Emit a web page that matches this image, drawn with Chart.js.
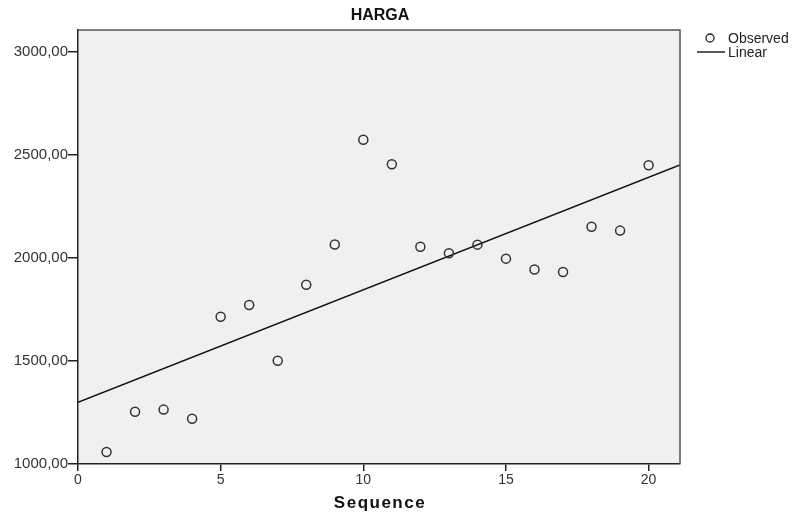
<!DOCTYPE html>
<html>
<head>
<meta charset="utf-8">
<script src="https://cdn.jsdelivr.net/npm/chart.js@4"></script>
<style>
html,body{margin:0;padding:0;background:#fff;}
#wrap{width:797px;height:514px;}
</style>
</head>
<body>
<div id="wrap"><canvas id="c" width="797" height="514"></canvas></div>
<script>
const sequence = [1,2,3,4,5,6,7,8,9,10,11,12,13,14,15,16,17,18,19,20];
const harga = [1058,1254,1264,1220,1715,1772,1501,1870,2066,2574,2455,2055,2023,2065,1997,1944,1932,2152,2133,2450];
const linearX = [0, 21.1];
const linearY = [1300, 2452];
const xTicks = [0,5,10,15,20];
const yTicks = [1000,1500,2000,2500,3000];
const title = "HARGA";
const xTitle = "Sequence";
const legendLabels = ["Observed","Linear"];

const FONT = "'Liberation Sans', Arial, sans-serif";

const decor = {
  id:'decor',
  beforeDraw(chart){
    const {ctx, chartArea:a} = chart;
    ctx.save();
    ctx.fillStyle = '#f0f0f0';
    ctx.fillRect(a.left, a.top, a.right-a.left, a.bottom-a.top);
    ctx.restore();
  },
  afterDraw(chart){
    const {ctx, chartArea:a} = chart;
    ctx.save();
    ctx.strokeStyle = '#555';
    ctx.lineWidth = 1.5;
    ctx.beginPath();
    ctx.moveTo(a.left, a.top); ctx.lineTo(a.right, a.top); ctx.lineTo(a.right, a.bottom);
    ctx.stroke();
    // title
    ctx.fillStyle = '#111';
    ctx.textAlign = 'center';
    ctx.textBaseline = 'middle';
    ctx.font = "bold 16px " + FONT;
    ctx.fillText(title, 380, 16);
    ctx.font = "bold 17px " + FONT;
    ctx.letterSpacing = '1.5px';
    ctx.fillText(xTitle, 380, 503);
    ctx.letterSpacing = '0px';
    // legend
    ctx.textAlign = 'left';
    ctx.font = "14px " + FONT;
    ctx.fillStyle = '#222';
    ctx.strokeStyle = '#222';
    ctx.lineWidth = 1.3;
    ctx.beginPath(); ctx.arc(710, 38, 4, 0, Math.PI*2); ctx.stroke();
    ctx.fillText(legendLabels[0], 728, 39);
    ctx.lineWidth = 1.5;
    ctx.beginPath(); ctx.moveTo(697, 52); ctx.lineTo(725, 52); ctx.stroke();
    ctx.fillText(legendLabels[1], 728, 53);
    ctx.restore();
  }
};

new Chart(document.getElementById('c'), {
  type:'scatter',
  data:{
    datasets:[
      {
        label: legendLabels[0],
        data: sequence.map((x,i)=>({x, y: harga[i]})),
        pointRadius: 4.5,
        pointBorderWidth: 1.5,
        pointBorderColor: '#333',
        pointBackgroundColor: 'rgba(0,0,0,0)',
        showLine:false,
        order: 1
      },
      {
        label: legendLabels[1],
        type:'line',
        data: linearX.map((x,i)=>({x, y: linearY[i]})),
        borderColor:'#111',
        borderWidth:1.5,
        pointRadius:0,
        fill:false,
        order: 2
      }
    ]
  },
  options:{
    responsive:false,
    animation:false,
    devicePixelRatio:1,
    layout:{padding:{top:30,right:117,left:0,bottom:0}},
    plugins:{legend:{display:false},tooltip:{enabled:false},title:{display:false}},
    scales:{
      x:{
        type:'linear', min:0, max:21.1,
        afterBuildTicks(s){ s.ticks = xTicks.map(v=>({value:v})); },
        afterFit(s){ s.height = 50; },
        grid:{drawOnChartArea:false, drawTicks:true, tickLength:7, color:'#222', lineWidth:1.5},
        border:{display:true, color:'#222', width:1.5},
        ticks:{padding:1, color:'#333', font:{family:FONT, size:14}, maxRotation:0, autoSkip:false}
      },
      y:{
        type:'linear', min:1000, max:3107,
        afterBuildTicks(s){ s.ticks = yTicks.map(v=>({value:v})); },
        afterFit(s){ s.width = 78; },
        grid:{drawOnChartArea:false, drawTicks:true, tickLength:10, color:'#222', lineWidth:1.5},
        border:{display:true, color:'#222', width:1.5},
        ticks:{padding:0, color:'#333', font:{family:FONT, size:15}, autoSkip:false,
          callback:(v)=> v.toFixed(2).replace('.', ',')}
      }
    }
  },
  plugins:[decor]
});
</script>
</body>
</html>
